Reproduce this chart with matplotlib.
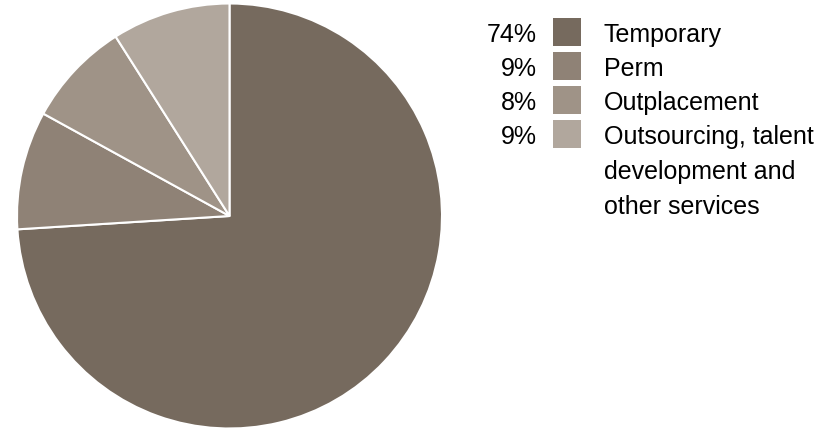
import matplotlib.pyplot as plt
from matplotlib.patches import Rectangle

plt.rcParams['font.family'] = ['Liberation Sans', 'DejaVu Sans']

# Revenue split by service line
labels = ['Temporary', 'Perm', 'Outplacement',
          'Outsourcing, talent\ndevelopment and\nother services']
shares = [74, 9, 8, 9]
colors = ['#766a5e', '#8f8276', '#9f9387', '#b1a79d']

W, H = 840, 432
fig = plt.figure(figsize=(W / 100, H / 100), dpi=100)

# pie: centre (229.5, 216) px, radius 212.5 px
cx, cy, r = 229.5, 216, 212.5
ax = fig.add_axes([(cx - r) / W, (H - cy - r) / H, 2 * r / W, 2 * r / H])
ax.pie(shares, colors=colors, startangle=90, counterclock=False, radius=1,
       wedgeprops=dict(edgecolor='white', linewidth=1.5))
ax.set_xlim(-1, 1)
ax.set_ylim(-1, 1)
ax.set_aspect('equal')
ax.axis('off')

# legend drawn in pixel coordinates
lg = fig.add_axes([0, 0, 1, 1])
lg.set_xlim(0, W)
lg.set_ylim(H, 0)
lg.axis('off')

fs = 18
y0, step, line_h = 32, 34, 35
for i, (lab, val, col) in enumerate(zip(labels, shares, colors)):
    y = y0 + i * step
    base = y + 10
    lg.text(537, base, f'{val}%', ha='right', va='baseline', fontsize=fs)
    lg.add_patch(Rectangle((553, y - 14), 28, 28, facecolor=col, edgecolor='none'))
    for j, line in enumerate(lab.split('\n')):
        lg.text(604, base + j * line_h, line, ha='left', va='baseline', fontsize=fs)

fig.savefig('out.png', dpi=100)
